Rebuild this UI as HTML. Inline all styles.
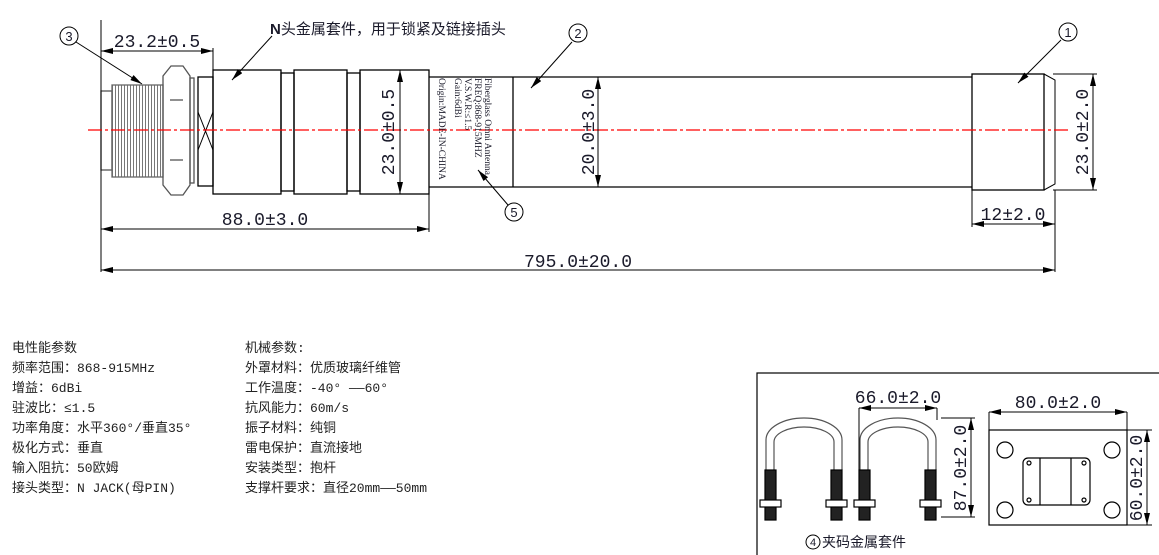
<!DOCTYPE html>
<html><head><meta charset="utf-8"><style>
html,body{margin:0;padding:0;background:#fff;width:1159px;height:555px;overflow:hidden}
svg{display:block}
text{font-family:"Liberation Serif","Noto Serif CJK SC",serif;fill:#1a1a2a}
.cn text{font-family:"Liberation Mono","Noto Sans CJK SC",monospace;font-size:13px;fill:#222}
text.d{font-size:18px;font-family:"Liberation Mono",monospace}
text.s{font-family:"Liberation Sans","Noto Sans CJK SC",sans-serif}
.lab text{font-size:9.5px}
</style></head><body>
<svg width="1159" height="555" viewBox="0 0 1159 555" xmlns="http://www.w3.org/2000/svg">
<defs>
<marker id="a" viewBox="0 0 12 6" refX="12" refY="3" markerWidth="12" markerHeight="6" orient="auto-start-reverse" markerUnits="userSpaceOnUse"><path d="M0,0 L12,3 L0,6 z" fill="#000"/></marker>
<pattern id="th" width="3" height="10" patternUnits="userSpaceOnUse"><line x1="1.5" y1="0" x2="1.5" y2="10" stroke="#777" stroke-width="1"/></pattern>
</defs>
<g fill="none" stroke="#000" stroke-width="1.3">
<rect x="101" y="91" width="11" height="79" stroke="#555"/>
<rect x="112" y="85" width="51" height="92" fill="url(#th)" stroke="#666"/>
<polygon points="171,66 183,66 190,76 190,185 183,195 171,195 163,185 163,76" stroke="#555"/>
<line x1="170" y1="100" x2="183" y2="100" stroke="#555"/><line x1="170" y1="160" x2="183" y2="160" stroke="#555"/>
<rect x="190" y="78" width="4" height="105" stroke="#555"/>
<rect x="198" y="77" width="15" height="109"/>
<path d="M198,112 L213,150 M213,112 L198,150" stroke-width="1"/>
<rect x="213" y="70" width="68" height="124"/>
<rect x="281" y="73" width="13" height="118"/>
<rect x="294" y="70" width="53" height="124"/>
<rect x="347" y="73" width="13" height="118"/>
<rect x="360" y="70" width="69" height="124"/>
<path d="M429,77 H972 M429,187 H972"/>
<line x1="513" y1="77" x2="513" y2="187"/>
<rect x="972" y="74" width="72" height="116"/>
<path d="M1044,74 L1055,80 L1055,184 L1044,190" stroke-width="1"/>
<path d="M101,20 V272 M213,48 V70 M429,194 V232 M1055,190 V272 M972,190 V227 M1053,74 H1097 M1053,190 H1097" stroke-width="1"/>
</g>
<line x1="88" y1="130" x2="1070" y2="130" stroke="#f00" stroke-width="1.2" stroke-dasharray="14,3,3,3"/>
<g stroke="#000" stroke-width="1" fill="none">
<line x1="101" y1="51" x2="213" y2="51" marker-start="url(#a)" marker-end="url(#a)"/>
<line x1="101" y1="229" x2="429" y2="229" marker-start="url(#a)" marker-end="url(#a)"/>
<line x1="101" y1="270" x2="1055" y2="270" marker-start="url(#a)" marker-end="url(#a)"/>
<line x1="972" y1="224" x2="1055" y2="224" marker-start="url(#a)" marker-end="url(#a)"/>
<line x1="400" y1="70" x2="400" y2="194" marker-start="url(#a)" marker-end="url(#a)"/>
<line x1="598" y1="77" x2="598" y2="187" marker-start="url(#a)" marker-end="url(#a)"/>
<line x1="1093" y1="74" x2="1093" y2="190" marker-start="url(#a)" marker-end="url(#a)"/>
<line x1="76" y1="42" x2="142" y2="84" marker-end="url(#a)"/>
<line x1="272" y1="36" x2="232" y2="80" marker-end="url(#a)"/>
<line x1="572" y1="42" x2="531" y2="88" marker-end="url(#a)"/>
<line x1="1061" y1="40" x2="1018" y2="83" marker-end="url(#a)"/>
<line x1="508" y1="205" x2="478" y2="170" marker-end="url(#a)"/>
<circle cx="69" cy="36" r="9"/><circle cx="578" cy="33" r="9"/><circle cx="1068" cy="32" r="9"/><circle cx="514" cy="212" r="9"/>
</g>
<g font-size="13" text-anchor="middle">
<text class="s" x="69" y="41">3</text><text class="s" x="578" y="38">2</text><text class="s" x="1068" y="37">1</text><text class="s" x="514" y="217">5</text>
</g>
<text class="d" x="157" y="47" text-anchor="middle">23.2±0.5</text>
<text class="d" x="265" y="225" text-anchor="middle">88.0±3.0</text>
<text class="d" x="578" y="267" text-anchor="middle">795.0±20.0</text>
<text class="d" x="1013" y="220" text-anchor="middle">12±2.0</text>
<text class="d" transform="translate(394,132) rotate(-90)" text-anchor="middle">23.0±0.5</text>
<text class="d" transform="translate(594,132) rotate(-90)" text-anchor="middle">20.0±3.0</text>
<text class="d" transform="translate(1088,132) rotate(-90)" text-anchor="middle">23.0±2.0</text>
<text class="s" x="270" y="34" font-size="15"><tspan font-weight="bold">N</tspan>头金属套件，用于锁紧及链接插头</text>
<g class="lab">
<text transform="translate(485,78) rotate(90)">Fiberglass Omni Antenna</text>
<text transform="translate(475,78) rotate(90)">FREQ:868-915MHZ</text>
<text transform="translate(465,78) rotate(90)">V.S.W.R:≤1.5</text>
<text transform="translate(455,78) rotate(90)">Gain:6dBi</text>
<text transform="translate(439,78) rotate(90)">Origin:MADE-IN-CHINA</text>
</g>
<g class="cn">
<text x="12" y="352">电性能参数</text><text x="12" y="372">频率范围：868-915MHz</text><text x="12" y="392">增益：6dBi</text><text x="12" y="412">驻波比：≤1.5</text><text x="12" y="432">功率角度：水平360°/垂直35°</text><text x="12" y="452">极化方式：垂直</text><text x="12" y="472">输入阻抗：50欧姆</text><text x="12" y="492">接头类型：N JACK(母PIN)</text>
<text x="245" y="352">机械参数:</text><text x="245" y="372">外罩材料：优质玻璃纤维管</text><text x="245" y="392">工作温度：-40° ——60°</text><text x="245" y="412">抗风能力：60m/s</text><text x="245" y="432">振子材料：纯铜</text><text x="245" y="452">雷电保护：直流接地</text><text x="245" y="472">安装类型：抱杆</text><text x="245" y="492">支撑杆要求：直径20mm——50mm</text>
</g>
<g fill="none" stroke="#000" stroke-width="1.2">
<rect x="757" y="373" width="410" height="190"/>
<g id="u">
<path d="M766,470 V440 A38,22 0 0 1 842,440 V470 M774,470 V442 A30,15 0 0 1 834,442 V470" stroke="#555"/>
<rect x="765" y="470" width="11" height="50" fill="#222"/>
<rect x="831" y="470" width="11" height="50" fill="#222"/>
<rect x="760" y="500" width="21" height="7" fill="#fff"/>
<rect x="826" y="500" width="21" height="7" fill="#fff"/>
</g>
<use href="#u" x="94"/>
<rect x="989" y="430" width="138" height="95"/>
<circle cx="1005" cy="450" r="8"/><circle cx="1112" cy="450" r="8"/><circle cx="1005" cy="510" r="8"/><circle cx="1112" cy="510" r="8"/>
<rect x="1023" y="458" width="67" height="47" rx="5"/>
<path d="M1040,458 V505 M1071,458 V505"/>
<circle cx="1029" cy="463" r="2"/><circle cx="1084" cy="463" r="2"/><circle cx="1029" cy="500" r="2"/><circle cx="1084" cy="500" r="2"/>
</g>
<g stroke="#000" stroke-width="1" fill="none">
<path d="M859,408 V470 M937,408 V420 M941,418 H975 M941,517 H975 M989,412 V430 M1127,412 V430 M1127,430 H1152 M1127,525 H1152"/>
<line x1="859" y1="408" x2="937" y2="408" marker-start="url(#a)" marker-end="url(#a)"/>
<line x1="971" y1="418" x2="971" y2="517" marker-start="url(#a)" marker-end="url(#a)"/>
<line x1="989" y1="412" x2="1127" y2="412" marker-start="url(#a)" marker-end="url(#a)"/>
<line x1="1147" y1="430" x2="1147" y2="525" marker-start="url(#a)" marker-end="url(#a)"/>
<circle cx="813" cy="542" r="7"/>
</g>
<text class="s" x="813" y="546" font-size="11" text-anchor="middle">4</text>
<text class="s" x="822" y="547" font-size="14">夹码金属套件</text>
<text class="d" x="898" y="403" text-anchor="middle">66.0±2.0</text>
<text class="d" x="1058" y="408" text-anchor="middle">80.0±2.0</text>
<text class="d" transform="translate(966,468) rotate(-90)" text-anchor="middle">87.0±2.0</text>
<text class="d" transform="translate(1142,478) rotate(-90)" text-anchor="middle">60.0±2.0</text>
</svg>
</body></html>
